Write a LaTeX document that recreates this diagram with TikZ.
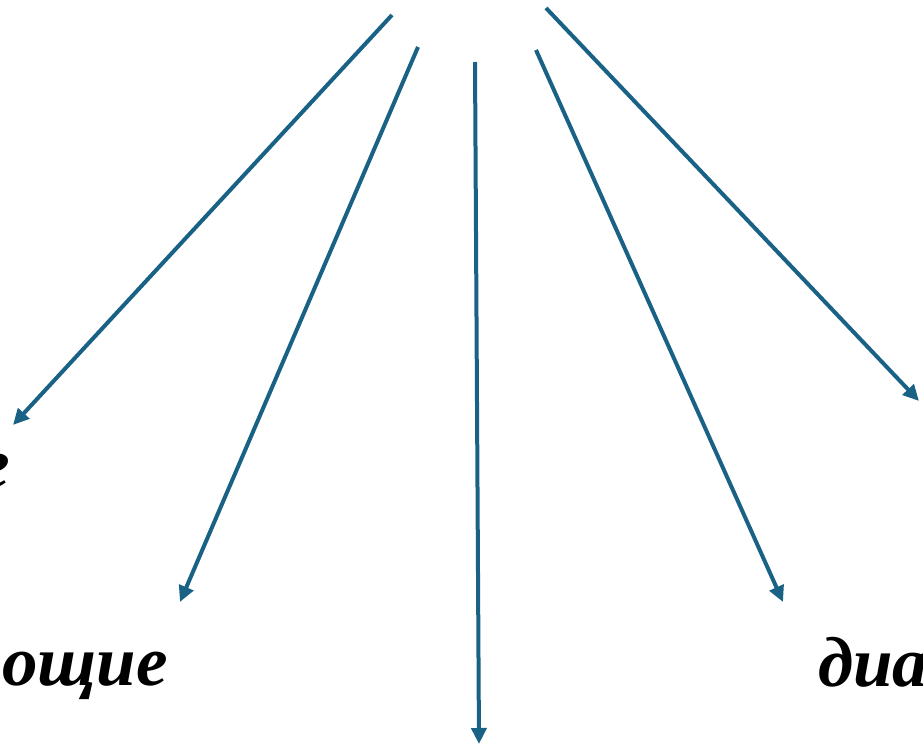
\documentclass[tikz,border=0pt]{standalone}
\usepackage{fontspec}
\setmainfont{Liberation Serif}
\usetikzlibrary{arrows.meta}
\definecolor{arrowblue}{RGB}{26,98,133}
\tikzset{
        branch/.style={draw=arrowblue, line width=4pt, -{Triangle[length=16pt, width=15pt]}},
        word/.style={font=\fontsize{71}{80}\selectfont\bfseries\itshape, inner sep=0pt, text=black}
          }
\begin{document}
\begin{tikzpicture}[x=1pt, y=-1pt]
        \useasboundingbox (0,0) rectangle (923,749);
        % upper ends of the fan
        \coordinate (s1) at (392,15);
        \coordinate (s2) at (418,47);
        \coordinate (s3) at (475,62);
        \coordinate (s4) at (536,50);
        \coordinate (s5) at (546,8);
        % tips
        \coordinate (e1) at (13,425);
        \coordinate (e2) at (180,602);
        \coordinate (e3) at (479,744);
        \coordinate (e4) at (783,602);
        \coordinate (e5) at (919,401);
        % words, cut off by the page edge
        \node[word, anchor=base east] (wleft) at (10,487) {е};
        \node[word, anchor=base east] (wmid) at (168,685) {ощие};
        \node[word, anchor=base west] (wright) at (818,686) {диа};
        \foreach \i in {1,...,5}
          \draw[branch] (s\i) -- (e\i);
      \end{tikzpicture}
\end{document}
